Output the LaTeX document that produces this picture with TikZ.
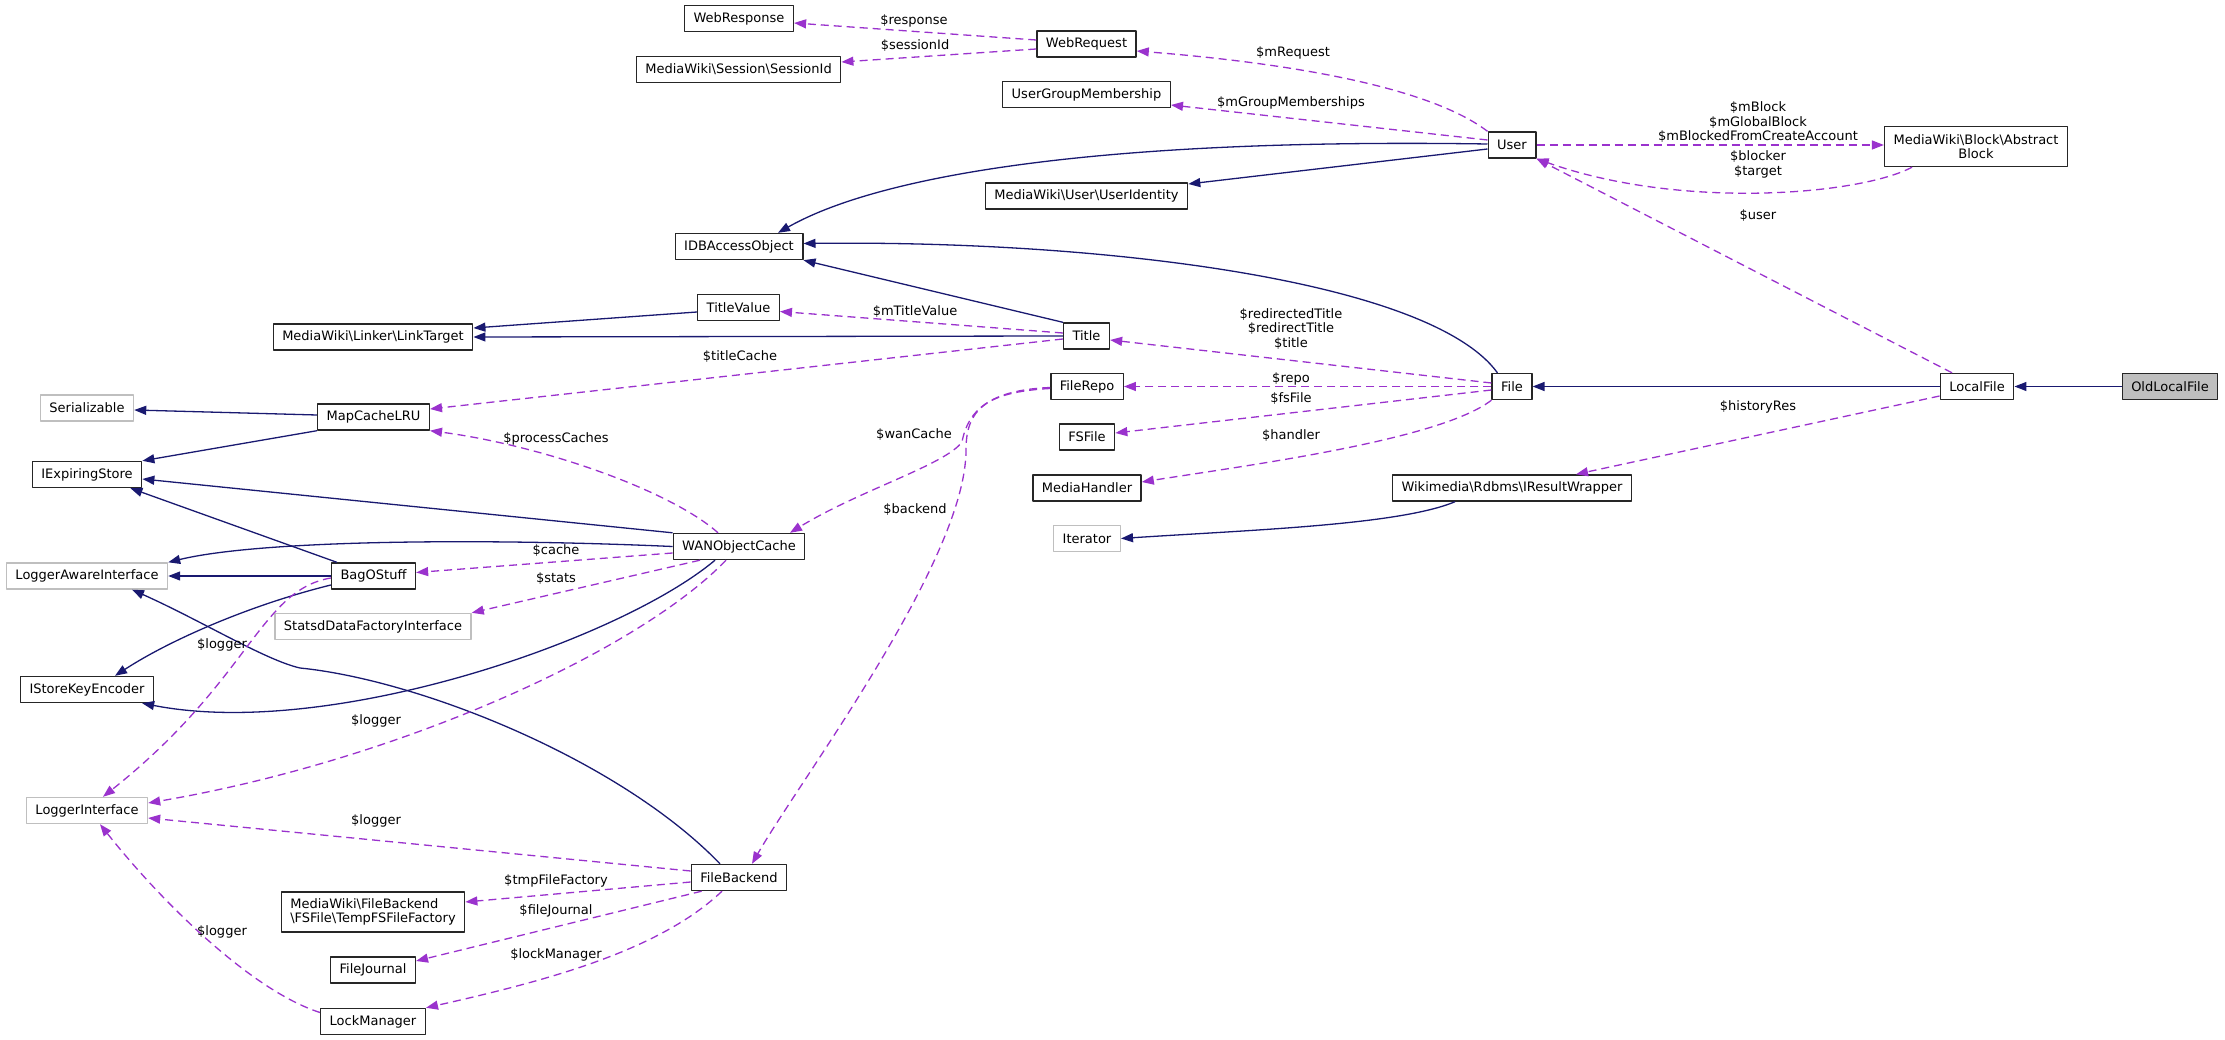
\documentclass[tikz,border=0pt]{standalone}
\usepackage{fontspec}
\setmainfont{DejaVu Sans}
\usetikzlibrary{arrows.meta}
\definecolor{inhblue}{HTML}{191970}
\definecolor{usepurple}{HTML}{9A32CD}
\definecolor{boxgray}{HTML}{BFBFBF}

\begin{document}
\begin{tikzpicture}[x=1pt,y=-1pt,line join=round,
  cls/.style={draw=black!85,line width=1.4pt,fill=white,minimum height=26pt,inner xsep=9pt,inner ysep=2pt,font=\fontsize{13}{13.5}\selectfont},
  ext/.style={cls,draw=boxgray},
  cur/.style={cls,fill=boxgray},
  lbl/.style={inner sep=0pt,align=center,font=\fontsize{13}{14.5}\selectfont},
  inh/.style={draw=inhblue,line width=1.3pt,-{Triangle[length=12pt,width=9pt]}},
  use/.style={draw=usepurple,line width=1.3pt,dash pattern=on 8pt off 5pt,-{Triangle[length=12pt,width=9pt]}}]
\useasboundingbox (0,0) rectangle (2225,1040);
% classes, right part
\node[cur] (oldlocal) at (2170,386.5) {OldLocalFile};
\node[cls] (localfile) at (1977,386.5) {LocalFile};
\node[cls] (file) at (1512,386.5) {File};
\node[cls] (user) at (1512,145) {User};
\node[cls,minimum height=40pt,align=center] (abstractblock) at (1976,146.5) {MediaWiki\textbackslash Block\textbackslash Abstract\\Block};
\node[cls] (resultwrapper) at (1512,488) {Wikimedia\textbackslash Rdbms\textbackslash IResultWrapper};
% middle column
\node[cls] (webrequest) at (1086.5,44) {WebRequest};
\node[cls] (ugm) at (1086.5,94.5) {UserGroupMembership};
\node[cls] (useridentity) at (1086.5,196) {MediaWiki\textbackslash User\textbackslash UserIdentity};
\node[cls] (title) at (1086.5,336) {Title};
\node[cls] (filerepo) at (1087,386.5) {FileRepo};
\node[cls] (fsfile) at (1087,437) {FSFile};
\node[cls] (mediahandler) at (1087,488) {MediaHandler};
\node[ext] (iterator) at (1087,538.5) {Iterator};
\node[cls] (webresponse) at (739,18.5) {WebResponse};
\node[cls] (sessionid) at (738.5,69.5) {MediaWiki\textbackslash Session\textbackslash SessionId};
\node[cls] (idbaccess) at (739,246.5) {IDBAccessObject};
\node[cls] (titlevalue) at (738.5,307.5) {TitleValue};
\node[cls] (wancache) at (739,546.5) {WANObjectCache};
\node[cls] (filebackend) at (739,877.5) {FileBackend};
% left part
\node[cls] (linktarget) at (373,337) {MediaWiki\textbackslash Linker\textbackslash LinkTarget};
\node[cls] (mapcache) at (373.5,417) {MapCacheLRU};
\node[cls] (bagostuff) at (373.5,576) {BagOStuff};
\node[ext] (statsd) at (373,626.5) {StatsdDataFactoryInterface};
\node[cls,minimum height=40pt,align=left] (tempfs) at (373,912) {MediaWiki\textbackslash FileBackend\\\textbackslash FSFile\textbackslash TempFSFileFactory};
\node[cls] (filejournal) at (373,970) {FileJournal};
\node[cls] (lockmanager) at (373,1021.5) {LockManager};
\node[ext] (serializable) at (87,408) {Serializable};
\node[cls] (iexpiring) at (87,474.5) {IExpiringStore};
\node[ext] (loggeraware) at (87,576) {LoggerAwareInterface};
\node[cls] (istorekey) at (87,689.5) {IStoreKeyEncoder};
\node[ext] (loggeriface) at (87,810.5) {LoggerInterface};
% inheritance
\draw[inh] (oldlocal) -- (localfile);
\draw[inh] (localfile) -- (file);
\draw[inh] ([xshift=6pt]file.north west) .. controls (1430,280) and (1100,240) .. ([yshift=3pt]idbaccess.east);
\draw[inh] ([yshift=1pt]user.west) .. controls (1100,138) and (880,175) .. ([xshift=39pt]idbaccess.north);
\draw[inh] ([yshift=-4pt]user.west) -- ([yshift=12pt]useridentity.east);
\draw[inh] (title.north west) -- (idbaccess.south east);
\draw[inh] ([yshift=-4.5pt]titlevalue.west) -- ([yshift=9pt]linktarget.east);
\draw[inh] (title.west) -- (linktarget.east);
\draw[inh] ([yshift=2pt]mapcache.west) -- ([yshift=-2pt]serializable.east);
\draw[inh] (mapcache.south west) -- (iexpiring.north east);
\draw[inh] (wancache.north west) -- ([yshift=-4.5pt]iexpiring.east);
\draw[inh] ([xshift=6pt]bagostuff.north west) -- ([xshift=-12pt]iexpiring.south east);
\draw[inh] (wancache.west) .. controls (480,538) and (260,540) .. (loggeraware.north east);
\draw[inh] (bagostuff.west) -- (loggeraware.east);
\draw[inh] ([xshift=-19pt]filebackend.north) .. controls (620,760) and (420,680) .. (300,668) .. controls (265,660) and (200,620) .. ([xshift=45pt]loggeraware.south);
\draw[inh] ([yshift=-9pt]bagostuff.west) .. controls (250,605) and (170,640) .. ([xshift=28pt]istorekey.north);
\draw[inh] ([xshift=-24pt]wancache.south) .. controls (620,640) and (330,740) .. ([xshift=-12pt]istorekey.south east);
\draw[inh] ([xshift=-57pt]resultwrapper.south) .. controls (1400,525) and (1250,530) .. (iterator.east);
% usage
\draw[use] ([yshift=4pt]webrequest.west) -- ([yshift=-4.5pt]webresponse.east);
\draw[use] ([yshift=-5pt]webrequest.west) -- ([yshift=7.5pt]sessionid.east);
\draw[use] (user.north west) .. controls (1420,80) and (1250,60) .. ([yshift=-7pt]webrequest.east);
\draw[use] ([yshift=5pt]user.west) -- ([yshift=-10.5pt]ugm.east);
\draw[use] (user.east) -- ([yshift=1.5pt]abstractblock.west);
\draw[use] ([xshift=-64pt]abstractblock.south) .. controls (1860,195) and (1680,210) .. (user.south east);
\draw[use] ([xshift=-25pt]localfile.north) -- (user.south east);
\draw[use] ([yshift=3.5pt]file.west) -- ([yshift=-4pt]title.east);
\draw[use] (file.west) -- (filerepo.east);
\draw[use] ([yshift=-3.5pt]file.west) -- ([yshift=4pt]fsfile.east);
\draw[use] (file.south west) .. controls (1440,440) and (1250,465) .. ([yshift=6pt]mediahandler.east);
\draw[use] ([yshift=-9.5pt]localfile.west) -- ([xshift=64pt]resultwrapper.north);
\draw[use] ([yshift=3pt]title.west) -- ([yshift=-4pt]titlevalue.east);
\draw[use] ([yshift=-3pt]title.west) -- ([yshift=8pt]mapcache.east);
\draw[use] ([xshift=-21pt]wancache.north) .. controls (670,490) and (540,445) .. (mapcache.south east);
\draw[use] ([yshift=-1pt]filerepo.west) .. controls (990,390) and (968,410) .. (962,442) .. controls (945,465) and (860,490) .. ([xshift=51pt]wancache.north);
\draw[use] ([yshift=-2pt]filerepo.west) .. controls (985,392) and (966,410) .. (966,450) .. controls (966,560) and (800,780) .. ([xshift=13pt]filebackend.north);
\draw[use] ([yshift=-6.5pt]wancache.west) -- ([yshift=3.5pt]bagostuff.east);
\draw[use] ([xshift=-39pt]wancache.south) -- (statsd.north east);
\draw[use] ([yshift=-2pt]bagostuff.west) .. controls (260,590) and (250,680) .. ([xshift=16pt]loggeriface.north);
\draw[use] ([xshift=-13pt]wancache.south) .. controls (640,650) and (400,760) .. ([yshift=7.5pt]loggeriface.east);
\draw[use] ([yshift=6.5pt]filebackend.west) -- ([yshift=-7.5pt]loggeriface.east);
\draw[use] ([yshift=-4.5pt]filebackend.west) -- ([yshift=10pt]tempfs.east);
\draw[use] ([xshift=11pt]filebackend.south west) -- ([yshift=9pt]filejournal.east);
\draw[use] ([xshift=-17pt]filebackend.south) .. controls (660,950) and (550,980) .. (lockmanager.north east);
\draw[use] ([yshift=9pt]lockmanager.west) .. controls (250,990) and (160,900) .. ([xshift=13pt]loggeriface.south);
% member labels
\node[lbl] (lresp) at (914,21) {\$response};
\node[lbl] (lsess) at (915,46) {\$sessionId};
\node[lbl] (lmreq) at (1293,53) {\$mRequest};
\node[lbl] (lgroup) at (1291,103) {\$mGroupMemberships};
\node[lbl] (lblock) at (1758,122.5) {\$mBlock\\\$mGlobalBlock\\\$mBlockedFromCreateAccount};
\node[lbl] (lblocker) at (1758,164.5) {\$blocker\\\$target};
\node[lbl] (luser) at (1758,216) {\$user};
\node[lbl] (ltitles) at (1291,329) {\$redirectedTitle\\\$redirectTitle\\\$title};
\node[lbl] (lrepo) at (1291,379) {\$repo};
\node[lbl] (lfsfile) at (1291,399) {\$fsFile};
\node[lbl] (lhandler) at (1291,436) {\$handler};
\node[lbl] (lhist) at (1758,407) {\$historyRes};
\node[lbl] (lmtv) at (915,312) {\$mTitleValue};
\node[lbl] (ltcache) at (740,357) {\$titleCache};
\node[lbl] (lproc) at (556,439) {\$processCaches};
\node[lbl] (lwan) at (914,435) {\$wanCache};
\node[lbl] (lbackend) at (915,510) {\$backend};
\node[lbl] (lcache) at (556,551) {\$cache};
\node[lbl] (lstats) at (556,579) {\$stats};
\node[lbl] (llogbag) at (222,645) {\$logger};
\node[lbl] (llogwan) at (376,721) {\$logger};
\node[lbl] (llogfb) at (376,821) {\$logger};
\node[lbl] (ltmp) at (556,881) {\$tmpFileFactory};
\node[lbl] (ljournal) at (556,911) {\$fileJournal};
\node[lbl] (llock) at (556,955) {\$lockManager};
\node[lbl] (lloglock) at (222,932) {\$logger};
\end{tikzpicture}
\end{document}
